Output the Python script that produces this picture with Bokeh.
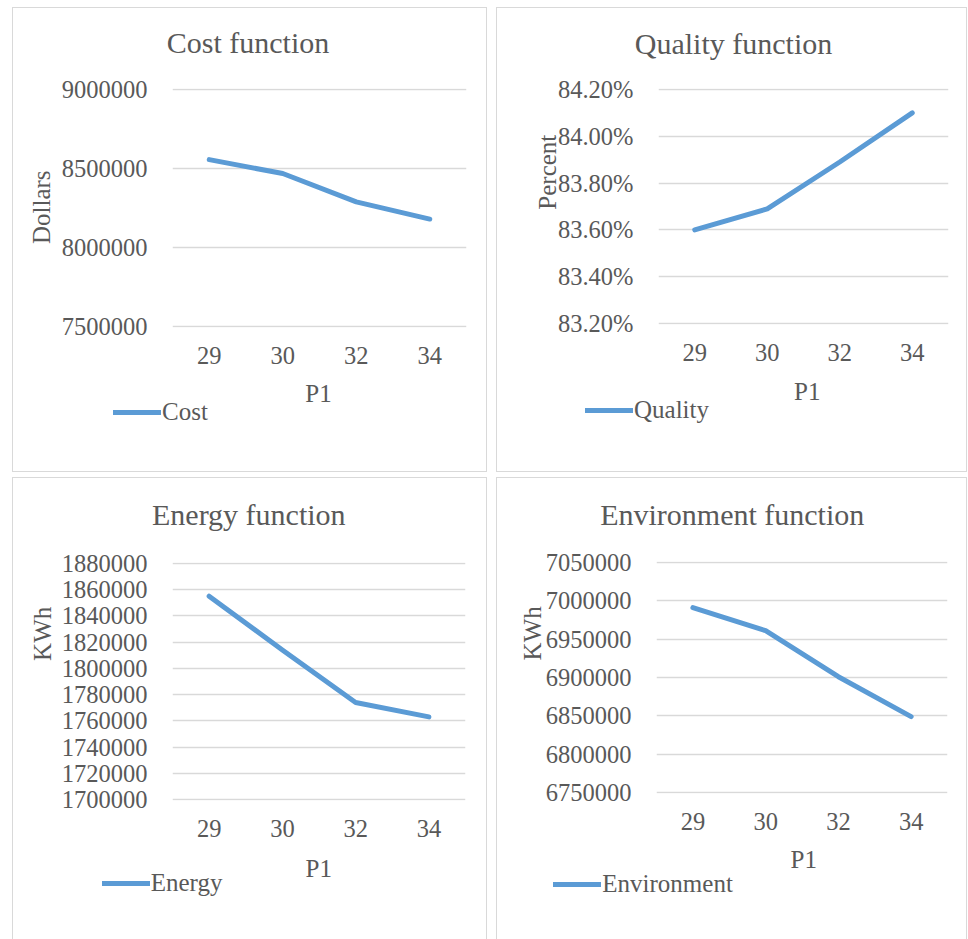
import math
from bokeh.plotting import figure
from bokeh.layouts import row, column
from bokeh.models import (FactorRange, Range1d, FixedTicker, NumeralTickFormatter,
                          Legend, LegendItem, Label)
from bokeh.embed import file_html
from bokeh.resources import INLINE

# ---------------- data ----------------
p1_levels = ["29", "30", "32", "34"]

cost = [8556000, 8468000, 8289000, 8180000]
quality = [0.8360, 0.8369, 0.8389, 0.8410]
energy = [1855000, 1814000, 1774000, 1763000]
environment = [6991000, 6961000, 6901000, 6849000]

cost_ticks = [7500000, 8000000, 8500000, 9000000]
quality_ticks = [0.832, 0.834, 0.836, 0.838, 0.840, 0.842]
energy_ticks = [1700000, 1720000, 1740000, 1760000, 1780000, 1800000,
                1820000, 1840000, 1860000, 1880000]
environment_ticks = [6750000, 6800000, 6850000, 6900000, 6950000, 7000000, 7050000]

titles = ["Cost function", "Quality function", "Energy function", "Environment function"]
y_titles = ["Dollars", "Percent", "KWh", "KWh"]
series_names = ["Cost", "Quality", "Energy", "Environment"]
x_title = "P1"

FONT = "Liberation Serif"
TXT = "#595959"
LINE = "#5B9BD5"
GRID = "#D9D9D9"
LW = 5


def no_align(fig):
    if "frame_align" in fig.properties():
        fig.frame_align = False


def make_panel(values, ticks, fmt, title, ytitle, name, w, h, borders,
               title_xy, ytitle_xy, xtitle_xy, legend_xy, bottom_border=True):
    left, right, top, bottom = borders
    pad = (ticks[-1] - ticks[0]) * 0.004

    # ---- the chart itself (axes, grid, line) ----
    p = figure(width=w, height=h, x_range=FactorRange(factors=p1_levels),
               y_range=Range1d(ticks[0] - pad, ticks[-1] + pad),
               output_backend="svg", toolbar_location=None, tools="",
               min_border_left=left, min_border_right=right,
               min_border_top=top, min_border_bottom=bottom)
    no_align(p)
    p.background_fill_color = None
    p.border_fill_color = None
    p.outline_line_color = None

    p.line(x=p1_levels, y=values, line_color=LINE, line_width=LW,
           line_cap="round", line_join="round")

    xa = p.xaxis[0]
    xa.axis_line_color = None
    xa.major_tick_line_color = None
    xa.minor_tick_line_color = None
    xa.major_tick_out = 0
    xa.major_tick_in = 0
    xa.major_label_standoff = 19
    xa.major_label_text_font = FONT
    xa.major_label_text_font_size = "24.5px"
    xa.major_label_text_color = TXT

    ya = p.yaxis[0]
    ya.ticker = FixedTicker(ticks=ticks)
    ya.formatter = NumeralTickFormatter(format=fmt)
    ya.axis_line_color = None
    ya.major_tick_line_color = None
    ya.minor_tick_line_color = None
    ya.major_tick_out = 0
    ya.major_tick_in = 0
    ya.minor_tick_out = 0
    ya.minor_tick_in = 0
    ya.major_label_standoff = 25
    ya.major_label_text_font = FONT
    ya.major_label_text_font_size = "24.5px"
    ya.major_label_text_color = TXT

    p.xgrid.visible = False
    p.ygrid.ticker = FixedTicker(ticks=ticks)
    p.ygrid.grid_line_color = GRID
    p.ygrid.grid_line_width = 1.5

    # ---- transparent overlay of the same size: chart border, titles, legend ----
    ov = figure(width=w, height=h, x_range=FactorRange(factors=p1_levels),
                y_range=Range1d(-2, -1),
                output_backend="svg", toolbar_location=None, tools="",
                x_axis_location=None, y_axis_location=None,
                min_border_left=0, min_border_right=0, min_border_top=0, min_border_bottom=0,
                margin=(-h, 0, 0, 0))
    no_align(ov)
    ov.grid.visible = False
    ov.outline_line_color = None
    ov.background_fill_color = None
    ov.border_fill_color = None
    shadows = ["inset 1px 0 0 0 #D9D9D9", "inset -1px 0 0 0 #D9D9D9",
               "inset 0 1px 0 0 #D9D9D9"]
    if bottom_border:
        shadows.append("inset 0 -1px 0 0 #D9D9D9")
    ov.styles = {"box-shadow": ", ".join(shadows)}

    ov.add_layout(Label(x=title_xy[0], y=title_xy[1], x_units="screen", y_units="screen",
                        text=title, text_align="center", text_baseline="alphabetic",
                        text_font=FONT, text_font_size="30px", text_color=TXT))
    ov.add_layout(Label(x=ytitle_xy[0], y=ytitle_xy[1], x_units="screen", y_units="screen",
                        text=ytitle, angle=math.pi / 2, text_align="center",
                        text_baseline="alphabetic",
                        text_font=FONT, text_font_size="25px", text_color=TXT))
    ov.add_layout(Label(x=xtitle_xy[0], y=xtitle_xy[1], x_units="screen", y_units="screen",
                        text=x_title, text_align="center", text_baseline="alphabetic",
                        text_font=FONT, text_font_size="25px", text_color=TXT))

    # legend sample: same series, kept outside the overlay's visible range
    sample = ov.line(x=p1_levels, y=values, line_color=LINE, line_width=LW,
                     line_cap="round")
    leg = Legend(items=[LegendItem(label=name, renderers=[sample])], location=legend_xy,
                 border_line_color=None, background_fill_alpha=0, padding=0, margin=0,
                 glyph_width=48, glyph_height=30, label_height=30, label_standoff=1,
                 label_text_font=FONT, label_text_font_size="25px", label_text_color=TXT)
    ov.add_layout(leg)

    return column(p, ov, spacing=0)


c1 = make_panel(cost, cost_ticks, "0", titles[0], y_titles[0], series_names[0],
                475, 465, (160, 21, 81, 145),
                (235.5, 430.1), (28.5, 265.3), (306, 79.3), (101, 45))
c2 = make_panel(quality, quality_ticks, "0.00%", titles[1], y_titles[1], series_names[1],
                471, 465, (162, 19, 81, 148),
                (237, 429.5), (51.2, 300.3), (310.7, 81), (89, 47))
c3 = make_panel(energy, energy_ticks, "0", titles[2], y_titles[2], series_names[2],
                475, 462, (160, 22, 85, 139),
                (236.3, 424.8), (30.2, 305.7), (306.3, 71.3), (89.7, 40.7),
                bottom_border=False)
c4 = make_panel(environment, environment_ticks, "0", titles[3], y_titles[3], series_names[3],
                471, 462, (160, 20, 84, 146),
                (235.7, 424.8), (36.2, 306.2), (307.3, 79.7), (57.3, 39.7),
                bottom_border=False)

layout = column(row(c1, c2, spacing=9), row(c3, c4, spacing=9), spacing=5,
                margin=(7, 0, 0, 12))

open("out.html", "w").write(file_html(layout, INLINE))
